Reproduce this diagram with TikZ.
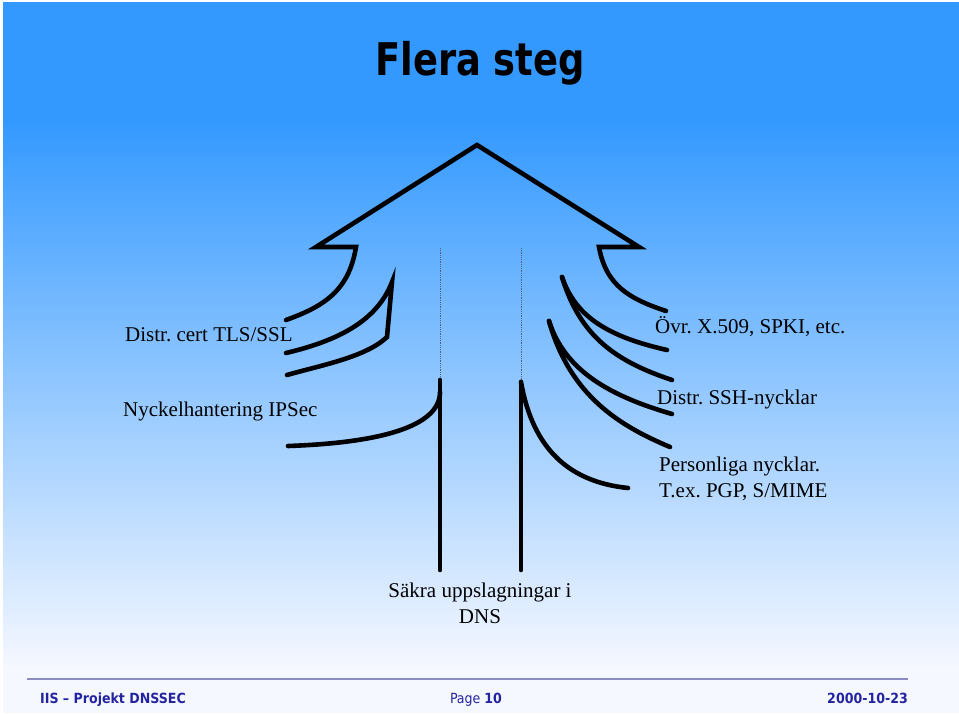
\documentclass[tikz,border=0pt]{standalone}
\usepackage{fontspec}
\setmainfont{Liberation Serif}
\newfontfamily\titlefont{DejaVu Sans Condensed}
\usetikzlibrary{calc}
\frenchspacing
\definecolor{topblue}{RGB}{51,153,255}
\definecolor{bottomwhite}{RGB}{246,248,255}
\definecolor{footblue}{RGB}{36,36,160}
\definecolor{footline}{RGB}{140,140,192}
\definecolor{dotgray}{RGB}{80,96,130}
\tikzset{
  stroke/.style={line width=4.6pt, line cap=round, line join=miter, draw=black},
  guide/.style={line width=0.9pt, draw=dotgray, dash pattern=on 0.9pt off 0.9pt},
  lbl/.style={font=\fontsize{21}{26}\selectfont, inner sep=0pt, text=black},
  foot/.style={font=\titlefont\bfseries\fontsize{14}{16}\selectfont, text=footblue, inner sep=0pt}
}
\begin{document}
\begin{tikzpicture}[x=1pt,y=-1pt]
\useasboundingbox (0,0) rectangle (959,713);
\fill[white] (0,0) rectangle (959,713);
\fill[topblue] (3,2) rectangle (959,120);
\shade[top color=topblue, bottom color=bottomwhite] (3,119.5) rectangle (959,670);
\fill[bottomwhite] (3,669.5) rectangle (959,713);

% title
\node[font=\titlefont\bfseries\fontsize{45}{50}\selectfont, xscale=0.91, transform shape, inner sep=0pt] (title) at (480,63) {Flera steg};

% guides
\coordinate (gl1) at (440,248); \coordinate (gl2) at (440,380);
\coordinate (gr1) at (521,248); \coordinate (gr2) at (521,382);
\draw[guide] (gl1) -- (gl2);
\draw[guide] (gr1) -- (gr2);

% arrow head outline
\coordinate (apex) at (477,145);
\coordinate (ltip) at (316,247); \coordinate (lin) at (356,247);
\coordinate (rtip) at (639,247); \coordinate (rin) at (599,247);
\coordinate (lend) at (286,320); \coordinate (rend) at (666,311);
\draw[stroke] (lend) .. controls (325,306) and (349,290) .. (lin) -- (ltip) -- (apex) -- (rtip) -- (rin) .. controls (606,286) and (630,299) .. (rend);

% left middle pair
\coordinate (lm) at (392,282);
\coordinate (lmk) at (387,337);
\draw[stroke] (286,353) .. controls (332,342) and (376,324) .. (lm) -- (lmk) .. controls (366,357) and (322,365) .. (287,375);

% left bottom
\coordinate (lvtop) at (440,380); \coordinate (lvbot) at (440,570);
\draw[stroke] (lvtop) -- (lvbot);
\draw[stroke] (288,446) .. controls (375,443) and (440,428) .. (440,392);

% right bottom
\coordinate (rvtop) at (521,382); \coordinate (rvbot) at (521,570);
\draw[stroke] (rvtop) -- (rvbot);
\draw[stroke] (rvtop) .. controls (533,450) and (570,482) .. (628,488);

% right pair 1
\coordinate (rp1) at (562,277);
\draw[stroke] (rp1) .. controls (575,315) and (605,336) .. (667,350);
\draw[stroke] (rp1) .. controls (580,336) and (615,361) .. (672,380);

% right pair 2
\coordinate (rp2) at (549,321);
\draw[stroke] (rp2) .. controls (565,371) and (610,396) .. (672,414);
\draw[stroke] (rp2) .. controls (570,396) and (620,426) .. (670,447);

% labels
\node[lbl, anchor=west] (tls) at (125,335) {Distr. cert TLS/SSL};
\node[lbl, anchor=west] (ipsec) at (123,411) {Nyckelhantering IPSec};
\node[lbl, anchor=west] (ovr) at (655,327) {Övr. X.509, SPKI, etc.};
\node[lbl, anchor=west] (ssh) at (657,399) {Distr. SSH-nycklar};
\node[lbl, anchor=west, align=left] (pers) at (659,479) {Personliga nycklar.\\T.ex. PGP, S/MIME};
\node[lbl, align=center] (dns) at (480,603) {Säkra uppslagningar i\\DNS};

% footer
\coordinate (fl1) at (27,679); \coordinate (fl2) at (908,679);
\draw[footline, line width=1.8pt] (fl1) -- (fl2);
\node[foot, anchor=base west] (fleft) at (40,703) {IIS – Projekt DNSSEC};
\node[foot, anchor=base, font=\titlefont\fontsize{14}{16}\selectfont] (fmid) at (476,703) {Page \textbf{10}};
\node[foot, anchor=base east] (fright) at (908,703) {2000-10-23};
\end{tikzpicture}
\end{document}
